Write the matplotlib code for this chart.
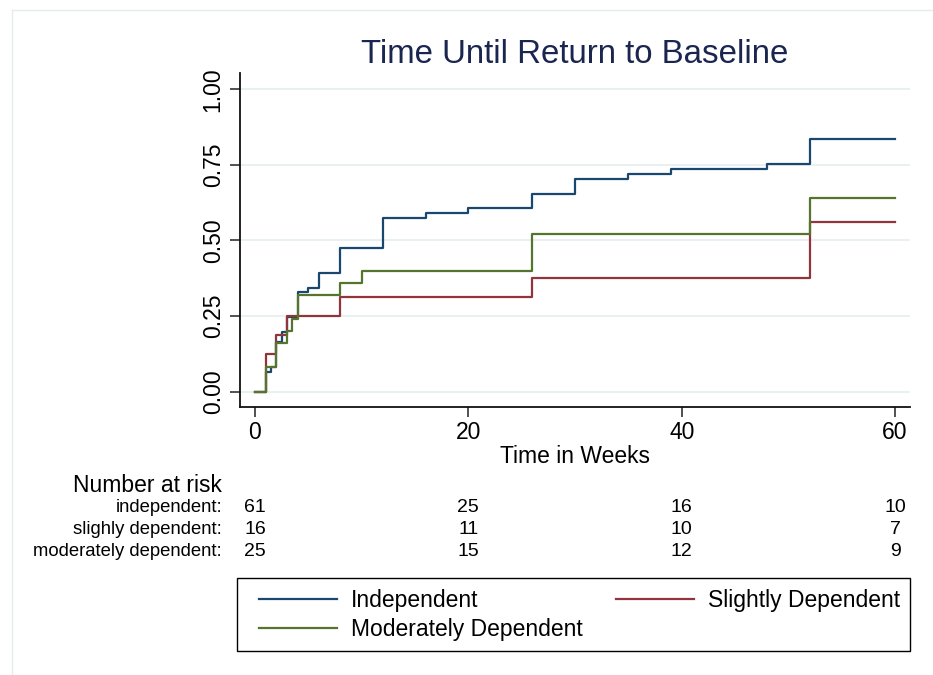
import numpy as np
import matplotlib
matplotlib.use('Agg')
import matplotlib.pyplot as plt
from matplotlib.lines import Line2D
from matplotlib.patches import Rectangle
import matplotlib.transforms as mtransforms

plt.rcParams['font.family'] = ['Liberation Sans', 'DejaVu Sans']

# Kaplan-Meier failure estimates (step times in weeks)
indep_t = [0, 1, 1.5, 2, 2.5, 3, 4, 5, 6, 8, 12, 16, 20, 26, 30, 35, 39, 48, 52, 60]
indep_f = [0, 0.066, 0.082, 0.164, 0.197, 0.246, 0.328, 0.344, 0.393, 0.475,
           0.574, 0.590, 0.606, 0.655, 0.704, 0.721, 0.737, 0.754, 0.836, 0.836]

slight_t = [0, 1, 2, 3, 8, 26, 52, 60]
slight_f = [0, 0.125, 0.1875, 0.25, 0.3125, 0.375, 0.5625, 0.5625]

moder_t = [0, 1, 2, 3, 3.5, 4, 8, 10, 26, 52, 60]
moder_f = [0, 0.08, 0.16, 0.20, 0.24, 0.32, 0.36, 0.40, 0.52, 0.64, 0.64]

# number at risk table
risk_times = [0, 20, 40, 60]
risk_labels = ['independent:', 'slighly dependent:', 'moderately dependent:']
risk_counts = [[61, 25, 16, 10],
               [16, 11, 10, 7],
               [25, 15, 12, 9]]

navy = '#1a476f'
maroon = '#90353b'
green = '#55752f'

W, H = 933, 675
fig = plt.figure(figsize=(W / 100, H / 100), dpi=100)
fig.patch.set_facecolor('white')

ax = fig.add_axes([240 / W, 1 - 406.7 / H, 670 / W, 333.7 / H])

l1, = ax.step(indep_t, indep_f, where='post', color=navy, lw=1.6, label='Independent')
l2, = ax.step(slight_t, slight_f, where='post', color=maroon, lw=1.6, label='Slightly Dependent')
l3, = ax.step(moder_t, moder_f, where='post', color=green, lw=1.6, label='Moderately Dependent')

ax.set_xlim(-1.4, 61.4)
ax.set_ylim(-0.05, 1.054)
ax.set_xticks([0, 20, 40, 60])
ax.set_yticks([0, 0.25, 0.5, 0.75, 1.0])
ax.set_yticklabels(['0.00', '0.25', '0.50', '0.75', '1.00'], rotation=90, va='center')
ax.tick_params(axis='both', labelsize=16.5, length=7, width=1.1, color='#222222')
ax.tick_params(axis='x', pad=3)
ax.tick_params(axis='y', pad=4)

ax.yaxis.grid(True, color='#e6eff1', lw=1.3)
ax.set_axisbelow(True)
for s in ['top', 'right']:
    ax.spines[s].set_visible(False)
for s in ['left', 'bottom']:
    ax.spines[s].set_linewidth(1.3)
    ax.spines[s].set_color('#111111')

ax.set_xlabel('Time in Weeks', fontsize=16.5, labelpad=1)
ax.set_title('Time Until Return to Baseline', fontsize=23.8, color='#1a2550', pad=7)

# number at risk
trans = mtransforms.blended_transform_factory(ax.transData, fig.transFigure)
fig.text(222 / W, 1 - 486 / H, 'Number at risk', ha='right', va='center', fontsize=16.5)
row_y = [508, 529, 551]
for lab, counts, yy in zip(risk_labels, risk_counts, row_y):
    fig.text(222 / W, 1 - yy / H, lab, ha='right', va='center', fontsize=13.3)
    for t, c in zip(risk_times, counts):
        ax.text(t, 1 - yy / H, str(c), transform=trans, ha='center', va='center',
                fontsize=14, clip_on=False)

# legend (row-wise order), frame drawn separately
fig.patches.append(Rectangle((237 / W, 1 - 651 / H), 673 / W, 73 / H,
                             transform=fig.transFigure, fill=False,
                             edgecolor='black', lw=1.0))
leg = fig.legend([l1, l3, l2], ['Independent', 'Moderately Dependent', 'Slightly Dependent'],
                 loc='lower left', ncol=2, mode='expand',
                 bbox_to_anchor=(249 / W, 1 - 651 / H, 661 / W, 73 / H),
                 fontsize=16.5, frameon=False, handlelength=3.4,
                 handletextpad=0.6, labelspacing=0.25, borderpad=0.45,
                 borderaxespad=0)

# faint outer frame
fig.add_artist(Line2D([12 / W, 1], [1 - 10 / H, 1 - 10 / H], transform=fig.transFigure,
                      color='#e3ecee', lw=1))
fig.add_artist(Line2D([12 / W, 12 / W], [0, 1 - 10 / H], transform=fig.transFigure,
                      color='#e3ecee', lw=1))

fig.savefig('out.png', dpi=100)
